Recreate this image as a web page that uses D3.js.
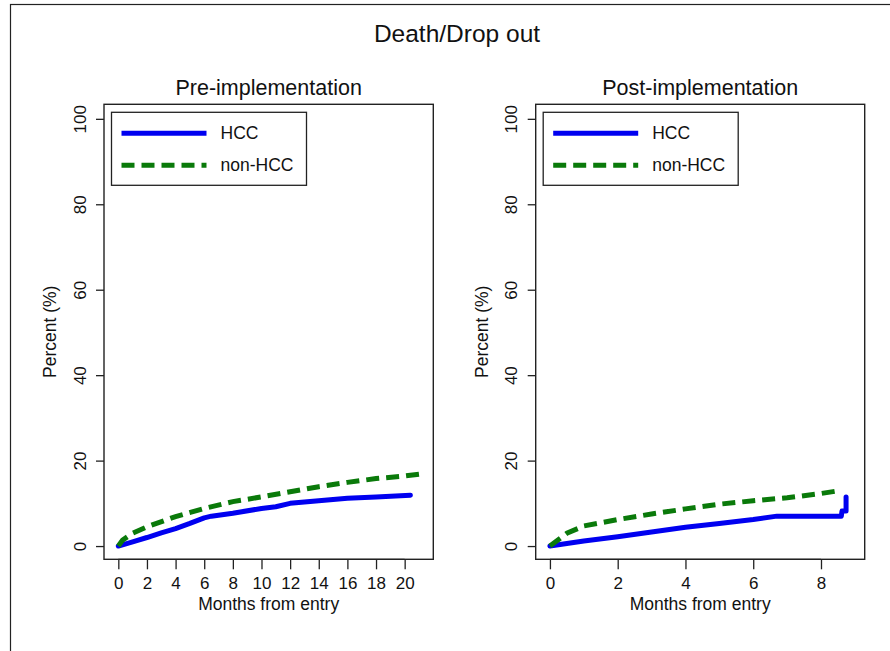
<!DOCTYPE html>
<html>
<head>
<meta charset="utf-8">
<script src="https://cdn.jsdelivr.net/npm/d3@7"></script>
<style>
  body { margin: 0; background: #fff; }
  svg { display: block; font-family: "Liberation Sans", Arial, sans-serif; }
</style>
</head>
<body>
<div id="chart"></div>
<script>
// cumulative incidence: [month, percent]
const preMonths = [0, 1, 2, 3, 4, 5, 6, 6.5, 8, 10, 11, 12, 14, 16, 18, 20.4];
const preHCC = [0, 1.0, 2.0, 3.1, 4.1, 5.3, 6.6, 7.0, 7.7, 8.8, 9.2, 10.0, 10.6, 11.2, 11.5, 11.9];
const preNonMonths = [0, 0.3, 1, 2, 4, 6, 8, 10, 12, 14, 16, 18, 20, 21.0];
const preNonHCC = [0, 1.4, 3.0, 4.5, 6.9, 8.8, 10.4, 11.5, 12.7, 13.9, 14.9, 15.8, 16.4, 16.8];

const postMonths = [0, 1, 2, 3, 4, 5, 6, 6.7, 8.6, 8.62, 8.74, 8.74];
const postHCC = [0, 1.2, 2.2, 3.3, 4.4, 5.3, 6.2, 7.0, 7.0, 8.2, 8.2, 11.5];
const postNonMonths = [0, 0.5, 1, 2, 3, 4, 5, 6, 7, 8, 8.56];
const postNonHCC = [0, 3.0, 4.7, 6.2, 7.5, 8.7, 9.8, 10.6, 11.3, 12.3, 13.0];

const yTicks = [0, 20, 40, 60, 80, 100];
const preXTicks = [0, 2, 4, 6, 8, 10, 12, 14, 16, 18, 20];
const postXTicks = [0, 2, 4, 6, 8];
const seriesNames = ["HCC", "non-HCC"];

const width = 890, height = 651;
const blue = "#0000f0", green = "#0a7a0a", ink = "#222";

const svg = d3.select("#chart").append("svg")
    .attr("width", width)
    .attr("height", height);

// outer frame (runs off the right and bottom edge)
svg.append("rect")
    .attr("x", 10.5).attr("y", 4.5)
    .attr("width", 1000).attr("height", 800)
    .attr("fill", "none").attr("stroke", ink).attr("stroke-width", 1.2);

svg.append("text")
    .attr("x", 457).attr("y", 42)
    .attr("text-anchor", "middle")
    .style("font-size", "24.5px")
    .attr("fill", "#111")
    .text("Death/Drop out");

function drawPanel(opts) {
    const { left, right, top, bottom, xDomain, xTicks, title, hcc, nonHcc } = opts;

    const x = d3.scaleLinear().domain(xDomain).range([left, right]);
    const y = d3.scaleLinear().domain([-3.1, 103.4]).range([bottom, top]);

    const g = svg.append("g");

    g.append("text")
        .attr("x", (left + right) / 2).attr("y", top - 9)
        .attr("text-anchor", "middle")
        .style("font-size", "21.5px")
        .attr("fill", "#111")
        .text(title);

    // x axis
    const xAxis = g.append("g")
        .attr("transform", `translate(0,${bottom})`)
        .call(d3.axisBottom(x).tickValues(xTicks).tickSize(10).tickPadding(8).tickSizeOuter(0));
    xAxis.attr("font-size", null).attr("font-family", null);
    xAxis.select(".domain")
        .attr("d", `M${x(xTicks[0])},0H${x(xTicks[xTicks.length - 1])}`);
    xAxis.selectAll("line, path").attr("stroke", ink).attr("stroke-width", 1.3);
    xAxis.selectAll("text")
        .style("font-size", "17px")
        .attr("fill", "#111");

    // y axis, labels rotated like R's default
    const yAxis = g.append("g")
        .attr("transform", `translate(${left},0)`)
        .call(d3.axisLeft(y).tickValues(yTicks).tickSize(8).tickSizeOuter(0));
    yAxis.attr("font-size", null).attr("font-family", null);
    yAxis.select(".domain").remove();
    yAxis.selectAll("line").attr("stroke", ink).attr("stroke-width", 1.3);
    yAxis.selectAll("text")
        .style("font-size", "17px")
        .attr("fill", "#111")
        .attr("x", null).attr("dy", null)
        .attr("text-anchor", "middle")
        .attr("transform", "translate(-24,0) rotate(-90)")
        .attr("dominant-baseline", "central");

    g.append("text")
        .attr("transform", `translate(${left - 54},${(top + bottom) / 2}) rotate(-90)`)
        .attr("text-anchor", "middle")
        .attr("dominant-baseline", "central")
        .style("font-size", "17.5px")
        .attr("fill", "#111")
        .text("Percent (%)");

    g.append("text")
        .attr("x", (left + right) / 2).attr("y", bottom + 51)
        .attr("text-anchor", "middle")
        .style("font-size", "17.5px")
        .attr("fill", "#111")
        .text("Months from entry");

    // curves
    const line = d3.line().x(d => x(d[0])).y(d => y(d[1]));

    g.append("path")
        .datum(d3.zip(hcc[0], hcc[1]))
        .attr("d", line)
        .attr("fill", "none")
        .attr("stroke", blue)
        .attr("stroke-width", 5)
        .attr("stroke-linejoin", "round")
        .attr("stroke-linecap", "round");

    g.append("path")
        .datum(d3.zip(nonHcc[0], nonHcc[1]))
        .attr("d", line)
        .attr("fill", "none")
        .attr("stroke", green)
        .attr("stroke-width", 5)
        .attr("stroke-dasharray", "13,7");

    // plot box
    g.append("rect")
        .attr("x", left).attr("y", top)
        .attr("width", right - left).attr("height", bottom - top)
        .attr("fill", "none").attr("stroke", ink).attr("stroke-width", 1.4);

    // legend
    const lx = left + 7.5, ly = top + 8;
    g.append("rect")
        .attr("x", lx).attr("y", ly)
        .attr("width", 195).attr("height", 73)
        .attr("fill", "#fff").attr("stroke", ink).attr("stroke-width", 1.3);

    const legend = g.selectAll(".leg").data(seriesNames).enter().append("g");
    legend.append("line")
        .attr("x1", lx + 10).attr("x2", lx + 95)
        .attr("y1", (d, i) => ly + 21 + i * 32)
        .attr("y2", (d, i) => ly + 21 + i * 32)
        .attr("stroke", (d, i) => i === 0 ? blue : green)
        .attr("stroke-width", 5)
        .attr("stroke-dasharray", (d, i) => i === 0 ? null : "13,7");
    legend.append("text")
        .attr("x", lx + 109)
        .attr("y", (d, i) => ly + 21 + i * 32)
        .attr("dominant-baseline", "central")
        .style("font-size", "17.5px")
        .attr("fill", "#111")
        .text(d => d);
}

drawPanel({
    left: 104, right: 433.3, top: 104.3, bottom: 559.3,
    xDomain: [-1.0, 22.0], xTicks: preXTicks,
    title: "Pre-implementation",
    hcc: [preMonths, preHCC], nonHcc: [preNonMonths, preNonHCC]
});

drawPanel({
    left: 535.7, right: 864.7, top: 104.3, bottom: 559.3,
    xDomain: [-0.42, 9.29], xTicks: postXTicks,
    title: "Post-implementation",
    hcc: [postMonths, postHCC], nonHcc: [postNonMonths, postNonHCC]
});
</script>
</body>
</html>
